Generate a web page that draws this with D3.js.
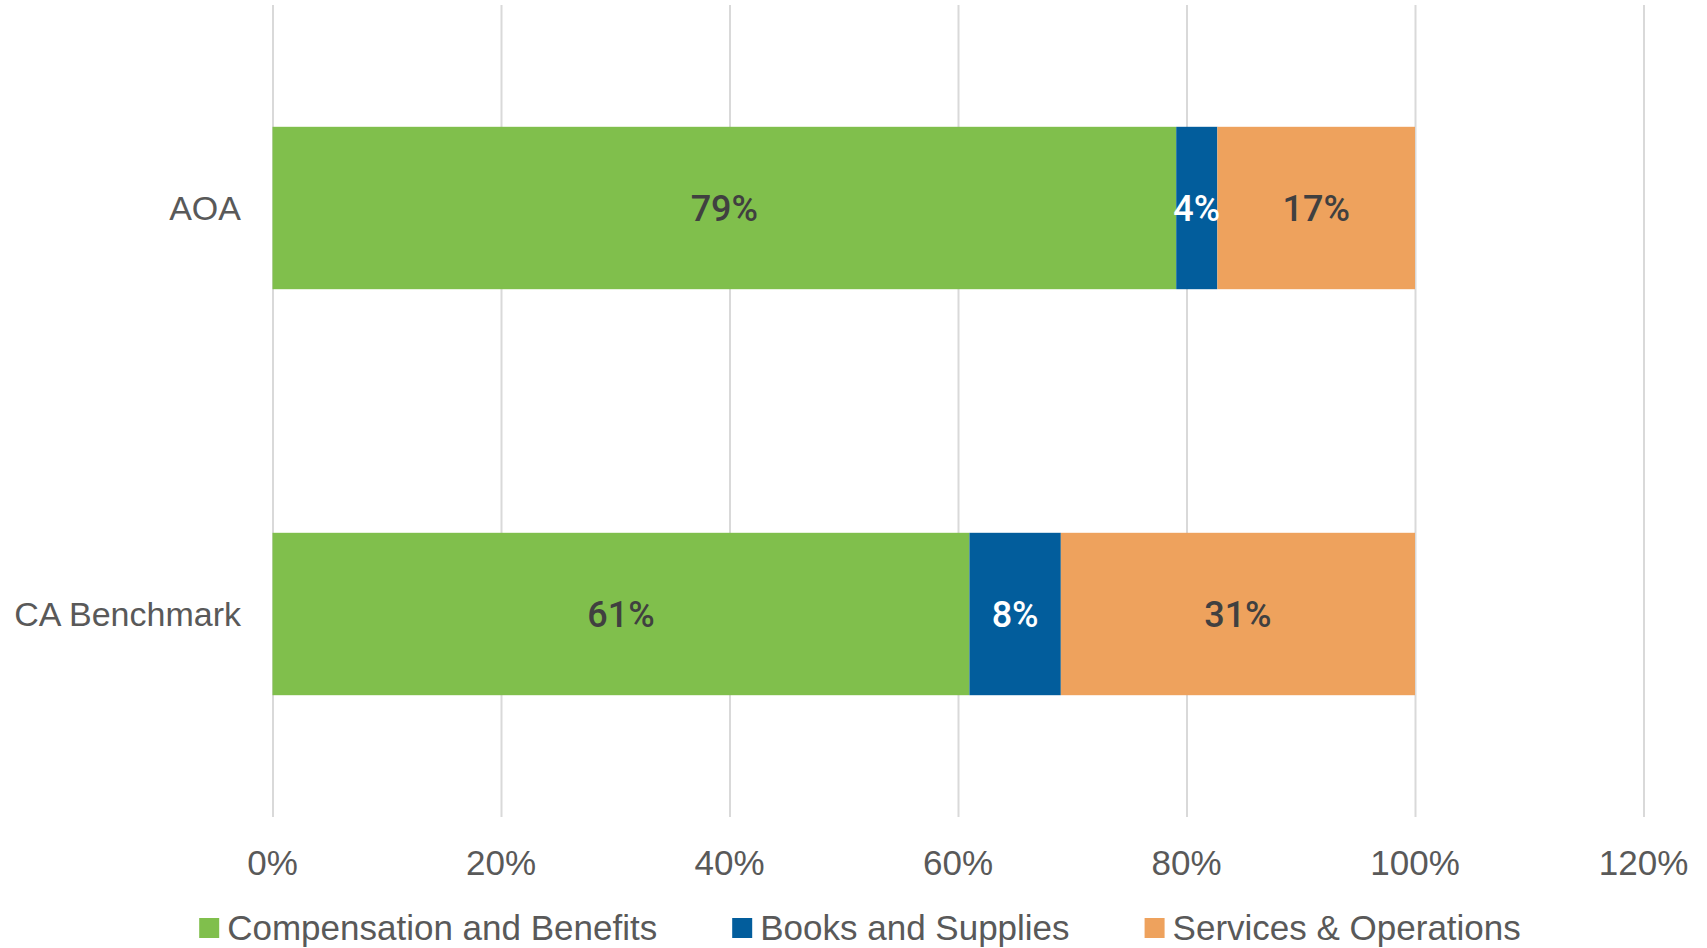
<!DOCTYPE html>
<html>
<head>
<meta charset="utf-8">
<title>Stacked bar</title>
<style>
  body { margin: 0; background: #fff; }
  .grid line { stroke: #d9d9d9; stroke-width: 2; }
  .grid .domain { display: none; }
  text { font-family: "Liberation Sans", Arial, sans-serif; }
  .dlabel { font-family: Roboto, "Liberation Sans", sans-serif; font-weight: 500; }
</style>
</head>
<body>
<script src="https://d3js.org/d3.v7.min.js"></script>
<script>
// data
var categories = ["AOA", "CA Benchmark"];
var seriesNames = ["Compensation and Benefits", "Books and Supplies", "Services & Operations"];
var compensation = [0.791, 0.61];
var books = [0.036, 0.08];
var services = [0.173, 0.31];
var xTicks = [0, 0.2, 0.4, 0.6, 0.8, 1.0, 1.2];

var colors = ["#80bf4c", "#025d9c", "#eea25d"];
var labelColors = ["#404040", "#ffffff", "#404040"];

var W = 1707, H = 948;
var margin = {left: 272.5, right: 63.5, top: 5, bottom: 131};

var svg = d3.select("body").append("svg")
    .attr("width", W)
    .attr("height", H);

// rows for stacking
var rows = categories.map(function(c, i) {
    return {cat: c, s0: compensation[i], s1: books[i], s2: services[i]};
});
var stacked = d3.stack().keys(["s0", "s1", "s2"])(rows);

var x = d3.scaleLinear()
    .domain([0, 1.2])
    .range([margin.left, W - margin.right]);
var y = d3.scaleBand()
    .domain(categories)
    .range([margin.top, H - margin.bottom])
    .paddingInner(0.6)
    .paddingOuter(0.3);

// gridlines
svg.append("g")
    .attr("class", "grid")
    .attr("transform", "translate(0," + margin.top + ")")
    .call(d3.axisTop(x).tickValues(xTicks).tickSize(-(H - margin.bottom - margin.top)).tickFormat(""));

// x tick labels
svg.append("g")
    .selectAll("text")
    .data(xTicks)
    .enter()
    .append("text")
    .attr("x", function(d) { return x(d); })
    .attr("y", 875)
    .attr("text-anchor", "middle")
    .attr("font-size", 35)
    .attr("fill", "#595959")
    .text(d3.format(".0%"));

// category labels
svg.append("g")
    .selectAll("text")
    .data(categories)
    .enter()
    .append("text")
    .attr("x", 241)
    .attr("y", function(d) { return y(d) + y.bandwidth() / 2; })
    .attr("dy", "0.35em")
    .attr("text-anchor", "end")
    .attr("font-size", 34)
    .attr("fill", "#595959")
    .text(function(d) { return d; });

// bars
var layer = svg.append("g")
    .selectAll("g")
    .data(stacked)
    .enter()
    .append("g")
    .attr("fill", function(d, i) { return colors[i]; });

layer.selectAll("rect")
    .data(function(d) { return d; })
    .enter()
    .append("rect")
    .attr("x", function(d) { return x(d[0]); })
    .attr("y", function(d) { return y(d.data.cat); })
    .attr("width", function(d) { return x(d[1]) - x(d[0]); })
    .attr("height", y.bandwidth());

// data labels
stacked.forEach(function(s, i) {
    svg.append("g")
        .selectAll("text")
        .data(s)
        .enter()
        .append("text")
        .attr("class", "dlabel")
        .attr("x", function(d) { return (x(d[0]) + x(d[1])) / 2; })
        .attr("y", function(d) { return y(d.data.cat) + y.bandwidth() / 2; })
        .attr("dy", "0.36em")
        .attr("text-anchor", "middle")
        .attr("font-size", 36)
        .attr("fill", labelColors[i])
        .text(function(d) { return d3.format(".0%")(d[1] - d[0]); });
});

// legend
var legend = svg.append("g");
var items = legend.selectAll("g")
    .data(seriesNames)
    .enter()
    .append("g");
items.append("rect")
    .attr("width", 20)
    .attr("height", 20)
    .attr("y", 918)
    .attr("fill", function(d, i) { return colors[i]; });
items.append("text")
    .attr("x", 28)
    .attr("y", 940)
    .attr("font-size", 35)
    .attr("fill", "#595959")
    .text(function(d) { return d; });

var gap = 75, pos = 0, offsets = [];
items.each(function(d, i) {
    offsets.push(pos);
    pos += 28 + this.querySelector("text").getComputedTextLength() + gap;
});
var total = pos - gap;
var start = 860 - total / 2;
items.attr("transform", function(d, i) { return "translate(" + (start + offsets[i]) + ",0)"; });
</script>
</body>
</html>
